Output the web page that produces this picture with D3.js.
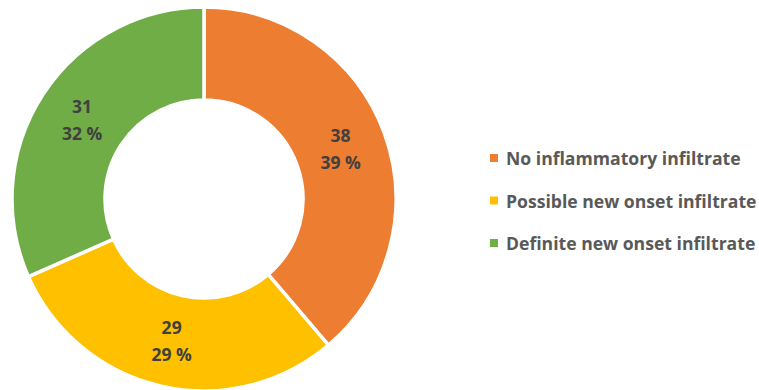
<!DOCTYPE html>
<html><head><meta charset="utf-8">
<script src="https://cdn.jsdelivr.net/npm/d3@7"></script>
<style>body{margin:0;background:#fff}</style>
</head><body>
<svg id="c" width="759" height="390"></svg>
<script>
const categories = ["No inflammatory infiltrate", "Possible new onset infiltrate", "Definite new onset infiltrate"];
const values = [38, 29, 31];
const percentLabels = ["39 %", "29 %", "32 %"];
const colors = ["#ED7D31", "#FFC000", "#70AD47"];

const svg = d3.select("#c");
const cx = 204, cy = 199, R = 192, r = 99;
const g = svg.append("g").attr("transform", `translate(${cx},${cy})`);
const pie = d3.pie().sort(null).value(d => d)(values);
const arc = d3.arc().innerRadius(r).outerRadius(R);
g.selectAll("path").data(pie).join("path")
  .attr("d", arc).attr("fill", (d,i) => colors[i])
  .attr("stroke", "#fff").attr("stroke-width", 3.5).attr("stroke-linejoin","miter");
const lab = g.selectAll("g.l").data(pie).join("g").attr("class","l")
  .attr("transform", d => `translate(${arc.centroid(d)})`);
lab.append("text").attr("y", -13.5).attr("text-anchor","middle").attr("dominant-baseline","central")
  .attr("font-family","Open Sans").attr("font-weight","bold").attr("font-size",17.5).attr("fill","#404040")
  .text((d,i) => values[i]);
lab.append("text").attr("y", 13).attr("text-anchor","middle").attr("dominant-baseline","central")
  .attr("font-family","Open Sans").attr("font-weight","bold").attr("font-size",17.5).attr("fill","#404040")
  .text((d,i) => percentLabels[i]);

const leg = svg.append("g").attr("transform","translate(490,158)");
const items = leg.selectAll("g").data(categories).join("g").attr("transform",(d,i)=>`translate(0,${i*42.5})`);
items.append("rect").attr("x",0).attr("y",-4).attr("width",8).attr("height",8).attr("fill",(d,i)=>colors[i]);
items.append("text").attr("x",16).attr("dominant-baseline","central")
  .attr("font-family","Open Sans").attr("font-weight","bold").attr("font-size",17.6).attr("fill","#595959")
  .text(d=>d);
</script>
</body></html>
